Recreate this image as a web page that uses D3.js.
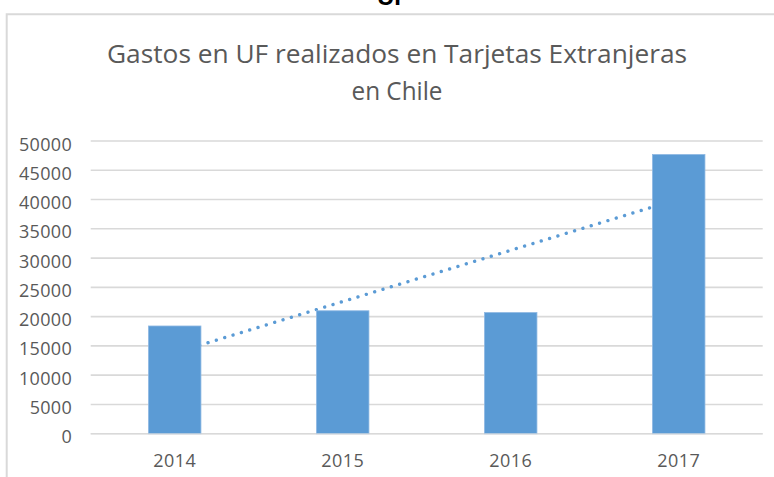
<!DOCTYPE html>
<html>
<head>
<meta charset="utf-8">
<script src="https://cdn.jsdelivr.net/npm/d3@7"></script>
<style>
  html, body { margin: 0; padding: 0; background: #fff; }
  svg { display: block; }
</style>
</head>
<body>
<svg id="chart" width="774" height="477"></svg>
<script>
// ---- data ----
const categories = ["2014", "2015", "2016", "2017"];
const values = [18400, 21000, 20700, 47700];
const yTicks = [0, 5000, 10000, 15000, 20000, 25000, 30000, 35000, 40000, 45000, 50000];
const titleLines = ["Gastos en UF realizados en Tarjetas Extranjeras", "en Chile"];
const pageHeading = "UF";

// ---- layout ----
const W = 774, H = 477;
const plot = { left: 90.7, right: 762.7, top: 141, bottom: 433.7 };
const barColor = "#5b9bd5";
const textColor = "#595959";
const gridColor = "#d9d9d9";
const labelFont = "'Open Sans', 'DejaVu Sans', sans-serif";

const svg = d3.select("#chart");

// page heading (cut off at the top, as in the source)
svg.append("text")
  .attr("x", 393).attr("y", 5)
  .attr("text-anchor", "middle")
  .attr("font-family", "'Liberation Sans', Arial, sans-serif")
  .attr("font-weight", "bold")
  .attr("font-size", 24)
  .attr("fill", "#000")
  .text(pageHeading);

// chart frame (extends past right/bottom edges)
svg.append("path")
  .attr("d", `M6.7,${H + 5} V14.3 H${W + 5}`)
  .attr("fill", "none")
  .attr("stroke", gridColor)
  .attr("stroke-width", 2);

// title
const titleY = [63.3, 100];
const titleWidths = [580, 91];
titleLines.forEach((t, i) => {
  svg.append("text")
    .attr("x", 397).attr("y", titleY[i])
    .attr("text-anchor", "middle")
    .attr("font-family", labelFont)
    .attr("font-size", 25.5)
    .attr("fill", textColor)
    .attr("textLength", titleWidths[i])
    .attr("lengthAdjust", "spacingAndGlyphs")
    .text(t);
});

// scales
const x = d3.scaleBand()
  .domain(categories)
  .range([plot.left, plot.right])
  .paddingInner(0.6875)
  .paddingOuter(0.34375);

const y = d3.scaleLinear()
  .domain([0, 50000])
  .range([plot.bottom, plot.top]);

// gridlines
svg.append("g")
  .selectAll("line")
  .data(yTicks)
  .join("line")
  .attr("x1", plot.left).attr("x2", plot.right)
  .attr("y1", d => y(d)).attr("y2", d => y(d))
  .attr("stroke", gridColor)
  .attr("stroke-width", 1.6);

// y axis labels
const yAxis = d3.axisLeft(y).tickValues(yTicks).tickFormat(d3.format("d")).tickSize(0).tickPadding(0);
const yG = svg.append("g").attr("transform", `translate(72,0)`).call(yAxis);
yG.select(".domain").remove();
yG.selectAll("text")
  .attr("font-family", labelFont)
  .attr("font-size", 18)
  .attr("letter-spacing", 0.3)
  .attr("fill", textColor)
  .attr("dy", null)
  .attr("y", 9);

// x axis labels
const xAxis = d3.axisBottom(x).tickSize(0).tickPadding(0);
const xG = svg.append("g").attr("transform", `translate(0,${plot.bottom})`).call(xAxis);
xG.select(".domain").remove();
xG.selectAll("text")
  .attr("font-family", labelFont)
  .attr("font-size", 18)
  .attr("letter-spacing", 0.4)
  .attr("fill", textColor)
  .attr("dy", null)
  .attr("y", 33);

// linear trendline (least squares fit of the series), drawn beneath the bars
const idx = values.map((_, i) => i + 1);
const mx = d3.mean(idx), my = d3.mean(values);
const slope = d3.sum(idx, (xi, i) => (xi - mx) * (values[i] - my)) / d3.sum(idx, xi => (xi - mx) ** 2);
const intercept = my - slope * mx;
const trendPts = [0, categories.length - 1].map(i => ({ cat: categories[i], v: intercept + slope * (i + 1) }));
svg.append("path")
  .datum(trendPts)
  .attr("d", d3.line().x(d => x(d.cat) + x.bandwidth() / 2).y(d => y(d.v)))
  .attr("fill", "none")
  .attr("stroke", barColor)
  .attr("stroke-width", 3.4)
  .attr("stroke-linecap", "round")
  .attr("stroke-dasharray", "0.01 8.7");

// bars
svg.append("g")
  .selectAll("rect")
  .data(values)
  .join("rect")
  .attr("x", (d, i) => x(categories[i]))
  .attr("width", x.bandwidth())
  .attr("y", d => y(d))
  .attr("height", d => y(0) - y(d))
  .attr("fill", barColor)
  .attr("stroke", "#8fb9e3")
  .attr("stroke-width", 0.8);

// axis line over bar bottoms
svg.append("line")
  .attr("x1", plot.left).attr("x2", plot.right)
  .attr("y1", y(0)).attr("y2", y(0))
  .attr("stroke", gridColor)
  .attr("stroke-width", 1.6)
  .attr("stroke-opacity", 0.5);
</script>
</body>
</html>
